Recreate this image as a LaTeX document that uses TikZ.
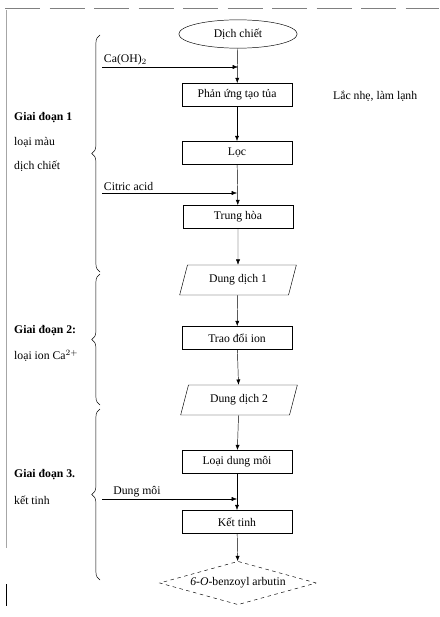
\documentclass[tikz,border=0pt]{standalone}
\usepackage{fontspec}
\setmainfont{Liberation Serif}
\usetikzlibrary{arrows.meta,shapes.geometric,decorations.pathreplacing}

\begin{document}
\begin{tikzpicture}[x=0.03cm,y=-0.03cm,font=\fontsize{10}{12}\selectfont,
		stepbox/.style={draw,rectangle,minimum width=3.3cm,minimum height=0.7cm,inner sep=1pt},
		iobox/.style={draw,trapezium,trapezium left angle=59,trapezium right angle=121,trapezium stretches body,minimum width=3.5cm,minimum height=0.9cm,inner sep=1pt},
		flow/.style={-{Latex[length=4.5pt,width=3.5pt]}},
		gbrace/.style={decorate,decoration={brace,mirror,amplitude=7pt}},
		stage/.style={anchor=west,inner sep=0pt}]
	\useasboundingbox (0,0) rectangle (439,617);

	\draw[gray,dashed,dash pattern=on 30pt off 8pt] (5,8) -- (439,8);
	\draw[gray!70] (6,10) -- (6,548);
	\draw (6,584) -- (6,606);

	\node[draw,ellipse,minimum width=3.55cm,minimum height=0.85cm,inner sep=1pt] (dich) at (238,34) {Dịch chiết};
	\node[stepbox] (phan) at (237,95) {Phản ứng tạo tủa};
	\node[stepbox] (loc) at (237,153) {Lọc};
	\node[stepbox] (trung) at (238,217) {Trung hòa};
	\node[iobox] (dd1) at (238,280) {Dung dịch 1};
	\node[stepbox] (trao) at (237,338) {Trao đổi ion};
	\node[iobox] (dd2) at (239,400) {Dung dịch 2};
	\node[stepbox] (loai) at (237,462) {Loại dung môi};
	\node[stepbox] (ket) at (237,522) {Kết tinh};
	\node[draw,dashed,diamond,aspect=3.6,minimum width=4.7cm,minimum height=1.3cm,inner sep=0pt] (sp) at (238,583) {\textit{6-O}-benzoyl arbutin};

	\node[anchor=west,inner sep=0pt] (lac) at (333,96) {Lắc nhẹ, làm lạnh};

	\draw[flow] (dich) -- (phan);
	\draw[flow] (phan) -- (loc);
	\draw[flow] (loc) -- (trung);
	\draw[flow] (trung) -- (dd1);
	\draw[flow] (dd1) -- (trao);
	\draw[flow] (trao) -- (dd2);
	\draw[flow] (dd2) -- (loai);
	\draw[flow] (loai) -- (ket);
	\draw[flow] (ket) -- (sp);

	\coordinate (caIn) at (102,67);
	\coordinate (acidIn) at (102,193);
	\coordinate (dmIn) at (102,499);
	\draw[flow] (caIn) -- (caIn -| dich);
	\draw[flow] (acidIn) -- (acidIn -| loc);
	\draw[flow] (dmIn) -- (dmIn -| loai);
	\node[anchor=south west,inner sep=1.5pt] (caLbl) at (caIn) {Ca(OH)$_2$};
	\node[anchor=south west,inner sep=1.5pt] (acidLbl) at (acidIn) {Citric acid};
	\node[anchor=south west,inner sep=1.5pt] (dmLbl) at ([xshift=8pt]dmIn) {Dung môi};

	\draw[gbrace] (100,35) -- (100,272);
	\draw[gbrace] (100,274) -- (100,405);
	\draw[gbrace] (100,409) -- (100,580);

	\node[stage] (g1) at (14,118) {\textbf{Giai đoạn 1}};
	\node[stage] (g1a) at (14,142) {loại màu};
	\node[stage] (g1b) at (14,166) {dịch chiết};
	\node[stage] (g2) at (14,331) {\textbf{Giai đoạn 2:}};
	\node[stage] (g2a) at (14,356) {loại ion Ca$^{2+}$};
	\node[stage] (g3) at (14,475) {\textbf{Giai đoạn 3.}};
	\node[stage] (g3a) at (14,500) {kết tinh};
\end{tikzpicture}
\end{document}
